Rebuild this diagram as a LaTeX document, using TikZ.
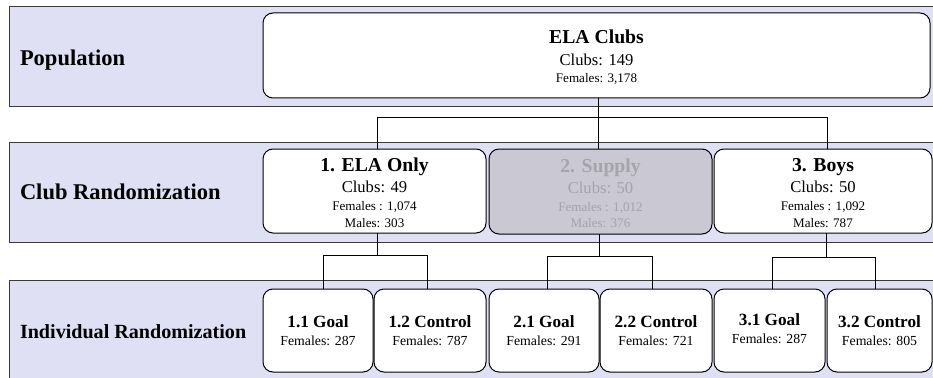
\documentclass[tikz,border=0pt]{standalone}
\usepackage{fontspec}
\setmainfont{Liberation Serif}
\definecolor{bandfill}{HTML}{E0E0F4}
\definecolor{bandline}{HTML}{3A3A3A}
\definecolor{grayfill}{HTML}{C9C8D3}
\definecolor{graytext}{HTML}{A4A4AC}
\tikzset{
  band/.style={draw=bandline, fill=bandfill, line width=1pt, inner sep=0pt, outer sep=0pt, anchor=north west},
  box/.style={draw=black, fill=white, rounded corners=10pt, line width=1pt, inner sep=0pt, outer sep=0pt, anchor=north west},
  graybox/.style={box, fill=grayfill},
  conn/.style={draw=black, line width=0.8pt},
  txt/.style={inner sep=0pt, outer sep=0pt, anchor=base},
  bandlabel/.style={inner sep=0pt, outer sep=0pt, anchor=base west, font=\fontsize{22.5}{26}\selectfont\bfseries},
  ttl/.style={txt, font=\fontsize{19.7}{23}\selectfont\bfseries},
  big/.style={txt, font=\fontsize{16.6}{20}\selectfont},
  small/.style={txt, font=\fontsize{13.1}{15}\selectfont},
  cttl/.style={txt, font=\fontsize{17.2}{20}\selectfont\bfseries},
  csmall/.style={txt, font=\fontsize{13.8}{16}\selectfont},
}
\begin{document}
\begin{tikzpicture}[x=1pt,y=-1pt]
\useasboundingbox (0,0) rectangle (933,377);
\clip (0,0) rectangle (933,377);
% bands
\node[band, minimum width=935pt, minimum height=100pt] (bandA) at (9,7) {};
\node[band, minimum width=935pt, minimum height=100pt] (bandB) at (9,142) {};
\node[band, minimum width=935pt, minimum height=120pt] (bandC) at (9,280) {};
\node[bandlabel] (lA) at (20,66) {Population};
\node[bandlabel] (lB) at (20,199) {Club Randomization};
\node[bandlabel, font=\fontsize{20.1}{24}\selectfont\bfseries] (lC) at (20,338) {Individual Randomization};
% boxes
\node[box, minimum width=667pt, minimum height=85pt] (main) at (263,13) {};
\node[box, minimum width=223pt, minimum height=84pt] (b1) at (263,149) {};
\node[graybox, minimum width=223pt, minimum height=85pt] (b2) at (489,149) {};
\node[box, minimum width=218pt, minimum height=84pt] (b3) at (714,149) {};
\node[box, minimum width=110pt, minimum height=83pt] (c11) at (263,289) {};
\node[box, minimum width=112pt, minimum height=83pt] (c12) at (374,289) {};
\node[box, minimum width=110pt, minimum height=83pt] (c21) at (489,289) {};
\node[box, minimum width=112pt, minimum height=83pt] (c22) at (600,289) {};
\node[box, minimum width=111pt, minimum height=83pt] (c31) at (714,289) {};
\node[box, minimum width=105pt, minimum height=83pt] (c32) at (827,289) {};
% connectors
\coordinate (t1) at (377,117);
\coordinate (t2) at (598,117);
\coordinate (t3) at (827,117);
\draw[conn] (t2 |- main.south) -- (t2 |- b2.north);
\draw[conn] (t1 |- b1.north) -- (t1) -- (t3) -- (t3 |- b3.north);
\coordinate (g1) at (377,255);
\coordinate (g1l) at (323,255);
\coordinate (g1r) at (427,255);
\draw[conn] (g1 |- b1.south) -- (g1);
\draw[conn] (g1l |- c11.north) -- (g1l) -- (g1r) -- (g1r |- c12.north);
\coordinate (g2) at (599,256);
\coordinate (g2l) at (547,256);
\coordinate (g2r) at (652,256);
\draw[conn] (g2 |- b2.south) -- (g2);
\draw[conn] (g2l |- c21.north) -- (g2l) -- (g2r) -- (g2r |- c22.north);
\coordinate (g3) at (826,257);
\coordinate (g3l) at (772,257);
\coordinate (g3r) at (875,257);
\draw[conn] (g3 |- b3.south) -- (g3);
\draw[conn] (g3l |- c31.north) -- (g3l) -- (g3r) -- (g3r |- c32.north);
% texts: main
\node[ttl] (mT) at (596.5,44) {ELA Clubs};
\node[big] (mC) at (596.5,66) {Clubs: 149};
\node[small] (mF) at (596.5,83) {Females: 3,178};
% b1
\node[ttl] (b1T) at (374.5,171) {1. ELA Only};
\node[big] (b1C) at (374.5,192) {Clubs: 49};
\node[small] (b1F) at (374.5,210) {Females : 1,074};
\node[small] (b1M) at (374.5,227) {Males: 303};
% b2
\node[ttl, text=graytext] (b2T) at (600.5,172) {2. Supply};
\node[big, text=graytext] (b2C) at (600.5,193) {Clubs: 50};
\node[small, text=graytext] (b2F) at (600.5,211) {Females : 1,012};
\node[small, text=graytext] (b2M) at (600.5,227) {Males: 376};
% b3
\node[ttl] (b3T) at (823,171) {3. Boys};
\node[big] (b3C) at (823,192) {Clubs: 50};
\node[small] (b3F) at (823,210) {Females : 1,092};
\node[small] (b3M) at (823,227) {Males: 787};
% children
\node[cttl] (c11T) at (318,327) {1.1 Goal};
\node[csmall] (c11F) at (318,345) {Females: 287};
\node[cttl] (c12T) at (430,327) {1.2 Control};
\node[csmall] (c12F) at (430,345) {Females: 787};
\node[cttl] (c21T) at (544,327) {2.1 Goal};
\node[csmall] (c21F) at (544,345) {Females: 291};
\node[cttl] (c22T) at (656,327) {2.2 Control};
\node[csmall] (c22F) at (656,345) {Females: 721};
\node[cttl] (c31T) at (769.5,325) {3.1 Goal};
\node[csmall] (c31F) at (769.5,343) {Females: 287};
\node[cttl] (c32T) at (879.5,327) {3.2 Control};
\node[csmall] (c32F) at (879.5,345) {Females: 805};
\end{tikzpicture}
\end{document}
